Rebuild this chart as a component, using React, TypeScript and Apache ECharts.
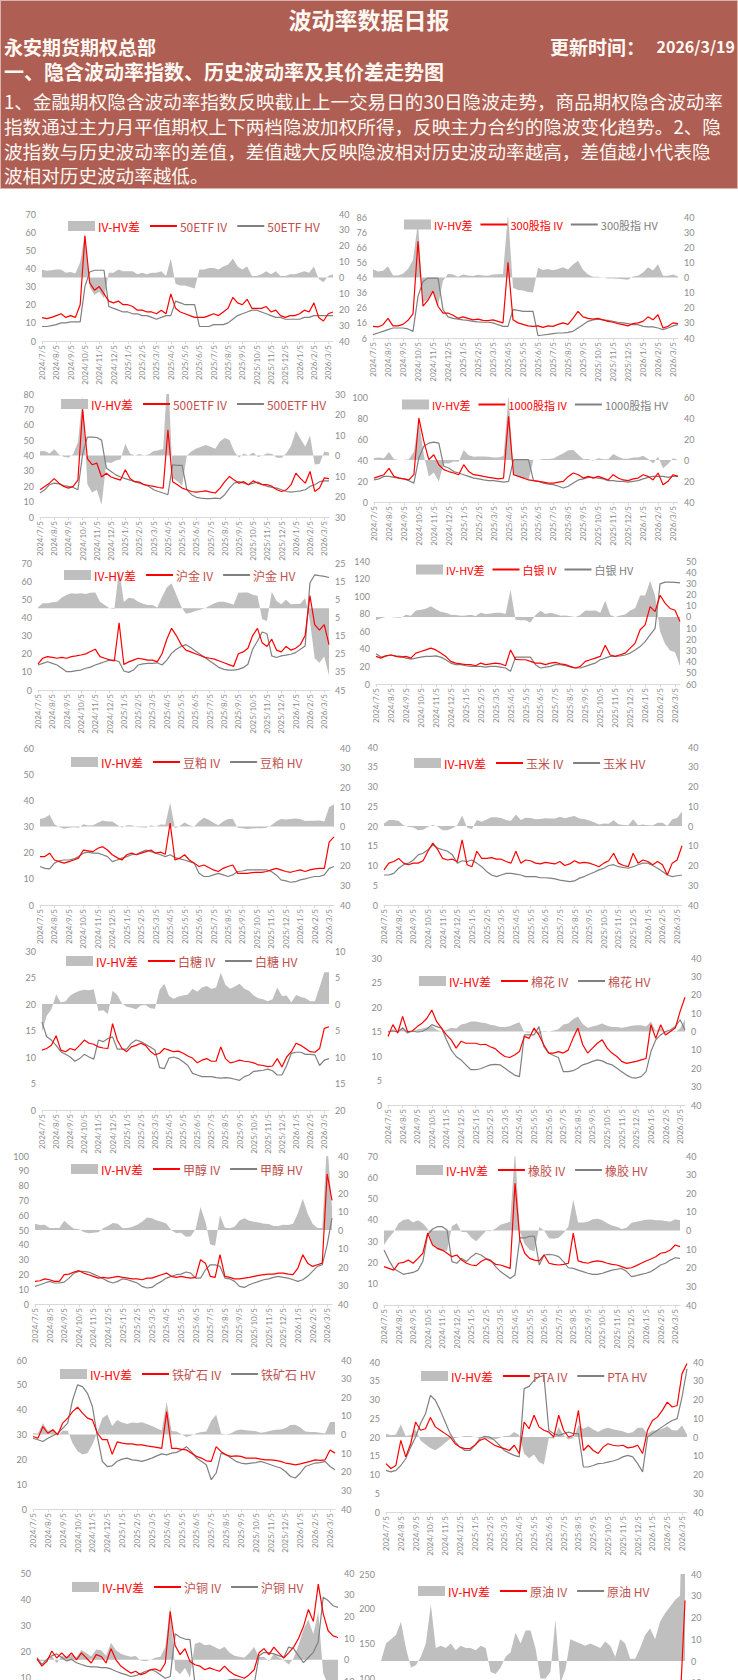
import { useEffect, useRef } from "react";
import * as echarts from "echarts";

// ---------- categories ----------
const DATES = [
  "2024/7/5", "2024/7/15", "2024/7/25", "2024/8/5", "2024/8/15", "2024/8/25",
  "2024/9/5", "2024/9/15", "2024/9/25", "2024/10/5", "2024/10/15", "2024/10/25",
  "2024/11/5", "2024/11/15", "2024/11/25", "2024/12/5", "2024/12/15", "2024/12/25",
  "2025/1/5", "2025/1/15", "2025/1/25", "2025/2/5", "2025/2/15", "2025/2/25",
  "2025/3/5", "2025/3/15", "2025/3/25", "2025/4/5", "2025/4/15", "2025/4/25",
  "2025/5/5", "2025/5/15", "2025/5/25", "2025/6/5", "2025/6/15", "2025/6/25",
  "2025/7/5", "2025/7/15", "2025/7/25", "2025/8/5", "2025/8/15", "2025/8/25",
  "2025/9/5", "2025/9/15", "2025/9/25", "2025/10/5", "2025/10/15", "2025/10/25",
  "2025/11/5", "2025/11/15", "2025/11/25", "2025/12/5", "2025/12/15", "2025/12/25",
  "2026/1/5", "2026/1/15", "2026/1/25", "2026/2/5", "2026/2/15", "2026/2/25",
  "2026/3/5", "2026/3/15",
];

const NAMES = ["50ETF", "300股指", "500ETF", "1000股指", "沪金", "白银", "豆粕", "玉米",
  "白糖", "棉花", "甲醇", "橡胶", "铁矿石", "PTA", "沪铜", "原油"];

// ---------- series values ----------
const IV_50ETF = [12.9,12.3,13, 14,15,13, 14,13,20, 58,32,28, 30,26,22, 21,22,20, 20,19,17, 17,16,16, 15,17,15, 26,18,16, 15,14,13, 13,13,14, 15,14,16, 18,24,21, 20,23,18, 18,18,19, 16,17,14, 13,14,14, 15,17,16, 21,13,11, 15,16];
const HV_50ETF = [8,8,8.5, 9,10,10, 10.5,10.5,10.5, 30,38,39, 39,39,19, 18,17,16, 16,15,15, 14,14,13, 12,13,14, 14,22,21, 20,20,20, 8,8,8, 9,9,9, 10,12,14, 15,16,17, 17,16,15, 14,13,13, 12,12,12, 12,13,13, 14,14,14, 14,14];

const IV_300 = [13.7,13.3,14.8, 19,14,14, 15,17.7,22, 70,27,31, 37,27,22.5, 22.5,21,19, 20,19,18, 18.5,17.7,17.5, 18,17,16, 56,18,16, 15,14,13.7, 14,13,14, 13.7,15,16, 15,19,23.6, 20,19,18.5, 19,18,17, 16.4,15.5,14.8, 14,15.5,16, 17,20,18, 21.4,12.6,13.7, 16,15.5];
const HV_300 = [8.2,9.3,10.4, 11.5,12.6,12.6, 12.6,12,10.4, 33.5,43.4,45.6, 45.6,45.6,24.7, 20,19,18.5, 18,17.7,17, 16.6,16.4,16.4, 16,14.8,13.7, 13.7,24.7,24.3, 23.6,23.6,23.6, 7.5,8,8.4, 8.9,9.3,9.3, 9.7,10.4,12.6, 14.8,17,18, 18.5,18,17.7, 17,16.4,16, 15.5,14.8,14.8, 13.7,13.3,13.3, 12.6,11.5,12.6, 14,14.8];

const IV_500ETF = [17.7,19.9,22, 25,22,19.9, 18.8,19.9,24, 70,38,34, 35,26,28.5, 26,25,24, 30.7,25,23, 22.7,21,20.5, 19.9,19.2,18.8, 56.7,23,21, 18.8,17.7,16.6, 16.2,16.6,17, 16.2,15.6,18.8, 23,26.4,24, 22,23,21, 23.5,22,21, 21,19.9,17.7, 16.6,17.7,21, 28.5,25,22, 29.6,16.6,18.8, 25.4,25];
const HV_500ETF = [15.6,17.7,21, 22,21.5,20.5, 19.9,19.2,17.7, 41,52,52, 51.7,50,31.8, 29.6,27.4,26, 25,24,23, 22,21,19.9, 17.7,16.6,15.6, 14.5,34,33.6, 33.6,17.7,14.5, 12.8,12.3,11.9, 11.9,12.3,11.9, 14.5,18.8,22, 23,22,21, 22,22.7,21, 19.9,19.2,18.8, 17.7,16.6,16.2, 16.6,17,17.7, 19.9,21,23, 23.5,23.5];

const IV_1000 = [22.8,24.4,26, 32,24.4,22.8, 22,21,26, 80,57.8,40.3, 45,35.5,30.8, 29,27.6,26, 35.5,29,26, 25.4,24.4,23.5, 22.8,22,22.8, 81.6,26,24.4, 22.8,21,20.3, 19.7,19,18, 18,19,19.7, 24.4,27.6,26, 22.8,24.4,22.8, 24.4,22.8,21, 26,22.8,21, 20.3,22,22.8, 26,24.4,21, 27.6,16.5,19.7, 26,24.4];
const HV_1000 = [21,22,24.4, 24.4,23.5,22.8, 22,20.3,18, 42,53,56, 57,56,34, 32.4,29,27.6, 26,24.4,22.8, 22,21,20.3, 20.3,19.7,19, 19.7,40.3,40.3, 40.3,40.3,20.3, 19.7,18,17, 16.5,15,13.3, 15,18,21, 22,23.5,23.5, 22.8,22,20.3, 20.3,19.7,19.7, 19,19.7,20.3, 22,23.5,24.4, 24.4,24.4,23.5, 24.4,24.4];

const IV_AU = [14.4,17.5,18.4, 18,17.5,18, 17.5,18.4,18.8, 19.3,19.9,21.2, 22.5,18.4,17.5, 16.6,16,37, 14,15.5,16.5, 17.5,17,16.5, 16.5,15.5,20, 28,34,30, 25,22,21, 20,19,18, 17.5,17,16, 15,14,13, 20,21,23, 30,34,26, 24,28,22, 21,24,22, 23,25,30, 52,36,33, 36,25];
const HV_AU = [13.8,14.7,15.6, 14.7,13.8,12, 10.1,10.1,10.7, 11,12,12.6, 13.8,14.7,15.6, 16.5,16.5,15.6, 10.5,9.7,11, 13.8,14.4,14.7, 14.7,15,13.8, 16.5,20.2,22.5, 24,25,23.4, 21.5,19.7,17.9, 16,14.2,12.3, 11.4,11,11, 11.4,12.3,14.2, 22.5,27,32, 31,18.8,17.9, 18.8,19.2,19.7, 20.6,22.5,24.3, 59,63.5,63, 62.6,62];

const IV_AG = [31.4,29.5,32, 33,31.4,30.6, 31.4,29.5,35.2, 37,38.8,40.9, 38.8,35.2,31.4, 25.7,23.8,23, 22,22,20.8, 23.8,22,23, 23.8,23,20.8, 38.8,28,27.6, 27.6,25.7,23.8, 23.8,22,23.8, 24.6,23,22, 20,18.2,20, 25.7,27.6,29.5, 31.4,44,33, 31.4,33.3,35.2, 40.9,46.5,61.7, 67.3,88,82.4, 101,92,86, 84,71];
const HV_AG = [34.4,30.6,32, 33,32,31.4, 29.5,28.4,29.5, 30.6,31.4,31.4, 32,30.6,27.6, 23.8,22,22, 20.8,20,20, 20,19.3,20, 20,19.3,18.2, 14.4,30.6,30.6, 30.6,30.6,22, 18.2,19.3,20, 22,22,20.8, 19.3,18.2,18.2, 20,22,23.8, 27.6,29.5,31.4, 31.4,32,33, 35.2,38.8,42.6, 48.2,55.8,63.3, 114,116,116, 115.6,115];

const IV_M = [18.5,18.5,19.8, 17.2,16.6,16, 16.6,17.2,17.9, 21,20.7,20.4, 21.7,22.3,21, 19.2,18.1,17.2, 19.2,19.8,19.2, 19.8,20.4,21, 19.8,20.2,19.4, 31.3,17.2,17.9, 19.2,17.2,16, 14.7,15.3,14.3, 13.4,12.8,14, 14.7,15.3,12.1, 12.1,12.1,12.4, 12.5,12.5,12.8, 13.4,14,13.4, 12.8,12.5,13, 13.4,12.8,13.4, 13.8,14,14, 24,26];
const HV_M = [14.7,14,13.8, 16,16.9,17.2, 17.2,17.6,18.5, 19.8,20.2,19.8, 19.8,19.2,18.5, 16.6,17.2,17.9, 18.5,19.2,19.4, 20.2,21,20.4, 19.8,19.2,18.5, 19.2,18.1,17.6, 17.2,16.6,16, 12.1,10.9,10.9, 11.5,12.1,11.5, 10.9,11.5,12.8, 13,13.4,13.4, 13.4,13.4,13.4, 12.8,11.5,9.6, 9.2,8.7,8.9, 9.6,10,10.5, 10.9,10.9,11.5, 14,14.7];

const IV_C = [8.9,10.6,11, 11.8,10.6,10.2, 10.6,10.6,11.2, 13.6,15.7,14, 11.8,11.4,11.6, 11,16.5,10.2, 9.7,13.6,11.8, 11.8,12,11.6, 11.6,11,10.6, 13.6,10.6,11.4, 11.2,10.6,10.4, 10.8,10.6,10.4, 11,10,10.4, 11.2,10.6,10.8, 10.6,10.2,9.7, 10.6,11.2,13.1, 10.6,10,9.7, 13.1,10.6,11.4, 11,10.2,11, 10.2,7.6,10.6, 11.4,15];
const HV_C = [7.6,7.6,8, 9.3,10.2,10.6, 11.4,12.7,13.1, 14,15.2,14.4, 14,13.6,12.7, 10.6,11.2,11, 11.4,10.6,9.7, 8.5,7.6,7.2, 7.6,8,8, 7.8,7.6,7.2, 7.2,7.2,6.9, 6.9,6.8,6.6, 6.3,6.1,5.9, 6.1,6.8,7.2, 7.8,8.3,8.9, 9.3,10,10.2, 9.7,9.5,9.3, 9.7,10.2,10.6, 10.6,10,9.3, 8.5,7.6,7.2, 7.4,7.6];

const IV_SR = [11.3,11.6,12.2, 14,11.3,11, 11.6,11.3,12.2, 13.2,12.6,12.4, 11.9,11.7,11.6, 16.3,13.2,11.6, 11,11.9,12.2, 12.6,12.2,11.1, 10.4,10.7,11.6, 11.3,11,11.1, 10.7,10.2,9.8, 8.9,9.4,9.7, 9.2,9.2,11.9, 9.7,8.9,9.1, 9.4,9.2,9.1, 8.9,8.5,8.4, 8.2,8.3,9.7, 8.1,10,11, 12.6,12.2,11.6, 11,10.9,11.6, 15.4,15.7];
const HV_SR = [16.6,13.8,13.2, 12.2,11,10.5, 10,9.2,9.7, 10.5,10,9.6, 13.2,12.9,13.5, 13.8,11.5,11.5, 11.5,12.6,13.2, 12.9,12.4,11.9, 11.3,8,7.8, 9.8,10,9.7, 9.1,8.4,6.9, 6.6,6.3,6.3, 6.3,6.1,6, 6.1,6,5.8, 5.6,6.3,6.6, 7.3,7.4,7.5, 7.7,7.4,6.6, 6.6,8.4,10.7, 10.9,10.9,10.5, 10.5,10.4,8.4, 9.4,9.7];

const IV_CF = [14,16.4,14.7, 18.1,15,15.1, 16,16.7,17.7, 19.4,17,15.7, 14.3,13.3,11.6, 13,12.6,12.6, 12.6,12.3,12.4, 11.9,11.5,10.6, 9.9,9.7,10.2, 10.9,14,13.6, 15.7,14.3,12.3, 10.6,10.6,10.9, 10.6,11.2,13.6, 15.7,12.3,10.6, 11.6,12.6,13.3, 11.6,10.6,9.9, 8.9,8.5,8.7, 8.9,9.2,9.5, 16.4,13.6,16.4, 14.3,15,15.7, 19.1,22];
const HV_CF = [15,15.1,14.9, 15.7,14.7,15.1, 14.9,15,15.5, 16.4,16,15.7, 13.3,11.2,9.9, 9.2,8.2,7.2, 7.2,7.4,7.8, 8.2,8.3,8.2, 7.5,6.8,6.1, 5.8,14.3,14.3, 14.3,16,11.9, 10.6,10.1,9.7, 6.8,6.8,7, 7.5,8.2,8.5, 8.9,9.2,9, 8.5,8.2,7.5, 6.8,6.1,5.6, 5.5,5.8,6.8, 10.9,13.3,14.3, 15,15.3,16, 17.4,15.3];

const IV_MA = [15.3,15.7,17, 16.4,15.3,15.3, 19.8,20.2,21.6, 22.5,20.9,19.8, 18.7,17.5,18, 17.5,18,18.7, 18,17.5,17, 17,16.4,17.5, 17.5,18.7,19.8, 20.9,18.7,18, 18.7,18,17.5, 18,29.9,27.6, 18.7,18,33.3, 18.7,18,17, 17,17.5,18, 18.7,19.3,19.8, 20.2,20.2,20.9, 20.9,20.2,19.8, 24.3,33.3,27.6, 25.4,26.5,27.6, 88,70];
const HV_MA = [11.9,13,14.2, 15.3,14.2,14.2, 14.8,17.5,20.9, 22,22,21.6, 20.2,18.7,17, 15.3,14.2,15.3, 17,16.4,15.3, 14.2,11.9,10.8, 11.2,13.5,15.3, 17.5,18.7,19.8, 20.2,21.6,20.9, 17.5,17.5,23.1, 26.5,26.5,25.4, 17.5,17,15.3, 11.9,11.2,13, 14.2,15.3,16.4, 17,18,18.7, 18,17.5,16.4, 15.3,16.4,18.7, 22,25.4,26.5, 40,58];

const IV_RU = [18,17.2,16.4, 19.6,20,21.1, 19.6,21.9,24.3, 33.8,28.2,26.6, 25.8,24.3,22.7, 23.5,21.1,19.6, 18.8,18.5,20.4, 21.6,20.7,19.1, 18.8,18,17.2, 57.2,30.7,24.3, 21.9,21.1,20.7, 23.5,19.6,19.1, 18.8,19.1,19.6, 33.8,20.7,20, 19.6,20.4,20.7, 20.4,19.6,19.1, 18.8,18,17.2, 17.5,18.5,19.6, 20.7,21.6,22.7, 24.3,24.7,25.8, 28.2,27.4];
const HV_RU = [25.8,21.1,17.2, 15.7,14.4,14.9, 15.3,16.4,20.4, 33,35.7,36.8, 36.8,35.2,20.4, 19.6,21.9,20.4, 22.7,24.3,23.5, 21.9,21.1,18, 15.7,14.1,12.5, 14.1,31.5,31.5, 32.3,32.3,18.8, 23.5,23.8,23.5, 22.7,20.4,17.5, 17.2,16.4,15.7, 14.9,14.4,14.4, 14.9,15.7,16.4, 16.8,17.2,15.7, 13.3,13.8,14.4, 14.9,15.7,17.2, 18.8,19.6,21.1, 22.2,21.9];

const IV_I = [29.2,28.5,33.2, 30.5,31.9,29.9, 34.6,36.6,39.2, 41,38.6,36.6, 35.9,30.5,27.9, 27.9,22,27, 26.5,26.2,26.2, 25.8,25.8,25.4, 25.1,24.8,24.4, 39.2,24.4,24.4, 24,23.8,22.5, 21.2,20.5,19.4, 19.2,25.1,23.1, 21.8,21.2,21.4, 21.2,20.5,20.5, 20.5,20.1,19.8, 19.8,19.6,19.2, 18.5,18.2,17.8, 18.2,18.7,19.2, 19.8,19.6,19.8, 23.8,22.5];
const HV_I = [28.5,27.9,27.2, 28.5,29.5,30.5, 32.5,34.6,43.9, 50,49.3,46.6, 41.3,29.2,19.2, 17.1,17.4,19.2, 20.1,20.5,19.8, 19.6,19.2,19.8, 20.5,21.4,22.2, 21.8,22.5,22.8, 23.8,25.1,23.1, 20.5,19.2,17.8, 11.8,14.5,22.5, 21.8,20.5,19.2, 18.5,18.2,18.5, 18.7,19.2,18.5, 17.8,17.1,16.5, 15.1,13.1,12.5, 14.5,17.1,17.8, 18.5,18.7,19.2, 17.1,15.8];

const IV_TA = [12.9,11.6,12.4, 19.1,14.7,18.2, 24,21.8,22.2, 25.2,22.7,21.8, 20.9,20,18.2, 17.3,16.9,16.9, 17.8,19.1,19.6, 18.7,17.8,17.3, 16.9,16.4,17.8, 15.6,24,22.2, 25.8,22.7,21.8, 21.3,20,25.8, 21.8,20,20.4, 27.1,16.4,17.8, 16.4,15.6,17.3, 18.2,17.8,17.6, 17.8,17.1,17.3, 17.8,15.6,21.8, 24.4,25.3,27.1, 29.3,28,28.4, 36.9,39.6];
const HV_TA = [11.1,10.7,11.1, 12.4,14.2,17.3, 20,23.6,26.2, 31.1,29.8,27.1, 24,20.9,18.7, 17.3,16.4,16.4, 17.8,19.6,20.2, 20,19.1,17.8, 16.4,15.7,15.1, 14.7,32.9,33.5, 35.1,36,36.4, 21.8,20.9,20.4, 20.9,21.3,20.9, 20.9,12,12, 12.4,12.9,13, 13.3,13.6,14, 14.7,15.1,14.7, 12.9,10.7,20, 20.9,21.8,22.7, 23.6,24.4,24.9, 30.7,38.2];

const IV_CU = [17,14.2,16, 20,17.3,19.3, 17.3,19.3,16.6, 19.3,17.3,15.4, 18.6,17.9,15.4, 20.9,16.6,14.2, 12.8,11.5,12.2, 10.9,11.5,12.8, 13.1,12.2,15.4, 35.2,22.1,18.6, 20.9,16,14.7, 14.2,12.8,13.5, 12.8,12.2,14.2, 12.2,10.9,10.2, 9.5,10.9,12.8, 19.3,20.9,18.6, 21.5,19.3,17.3, 19.3,21.5,24.8, 29.4,36,31.4, 45.7,34.4,27.8, 25.8,25.2];
const HV_CU = [17.5,14.8,16.8, 18.2,18.9,17.5, 16.2,16.8,15.5, 14.8,14.2,13.9, 13.9,13.6,13.6, 13.1,12.2,11.5, 10.9,10.2,10.5, 11.3,12.2,12.8, 12.2,10.9,9.5, 10.2,26.6,25.3, 24.6,24.4,7.4, 6.2,6.2,6.5, 6.9,7.5,8.2, 8.9,9.1,8.9, 8.6,7.8,6.9, 18.2,19.5,19.3, 18.9,18.2,17.5, 21.5,20.9,18.2, 15.5,17.5,19.5, 23.6,40.7,39.4, 37.4,36.8];

const IV_SC = [22,30,30, 34,42,32, 27,30,32, 42,61,39, 37,34,34, 29,30,28, 30,31,35, 33,21,19, 23,30,32, 48,58,59, 56,44,28, 28,37,59, 24,26,38, 36,34,33, 33,32,32, 36,35,30, 37,35,27, 27,31,38, 42,38,48, 52,57,62, 60,212];
const HV_SC = [22,22,20, 22,24,26, 30,32,30, 34,35,33, 30,28,26, 24,23,22, 24,26,28, 27,26,25, 26,28,28, 35,50,45, 42,38,36, 36,42,40, 34,30,28, 27,26,26, 25,25,26, 27,28,28, 27,27,26, 26,25,26, 27,28,30, 30,32,34, 30,90];

const IV_ALL = [IV_50ETF, IV_300, IV_500ETF, IV_1000, IV_AU, IV_AG, IV_M, IV_C, IV_SR, IV_CF, IV_MA, IV_RU, IV_I, IV_TA, IV_CU, IV_SC];
const HV_ALL = [HV_50ETF, HV_300, HV_500ETF, HV_1000, HV_AU, HV_AG, HV_M, HV_C, HV_SR, HV_CF, HV_MA, HV_RU, HV_I, HV_TA, HV_CU, HV_SC];

// ---------- axis scales (min, max, interval) ----------
const LEFT_SCALES = [[0,70,10],[6,86,10],[0,80,10],[0,100,20],[0,70,10],[0,140,20],[0,60,10],[0,40,5],
  [0,30,5],[0,30,5],[0,100,10],[0,70,10],[0,60,10],[0,40,5],[0,50,10],[0,250,50]];
const RIGHT_SCALES = [[-40,40,10],[-40,40,10],[-30,30,10],[-40,60,20],[-45,25,10],[-60,50,10],[-40,40,10],[-40,40,10],
  [-20,10,5],[-40,40,10],[-40,40,10],[-40,40,10],[-40,40,10],[-40,40,10],[-20,40,10],[-40,40,10]];

// ---------- header texts ----------
const TITLE = "波动率数据日报";
const DEPT = "永安期货期权总部";
const UPDATE_LABEL = "更新时间：";
const UPDATE_DATE = "2026/3/19";
const SECTION = "一、隐含波动率指数、历史波动率及其价差走势图";
const PARA = [
  "1、金融期权隐含波动率指数反映截止上一交易日的30日隐波走势，商品期权隐含波动率",
  "指数通过主力月平值期权上下两档隐波加权所得，反映主力合约的隐波变化趋势。2、隐",
  "波指数与历史波动率的差值，差值越大反映隐波相对历史波动率越高，差值越小代表隐",
  "波相对历史波动率越低。",
];

// ---------- layout (pixels) ----------
const PAGE_H = 1680;
const LAYOUT = [
  { l: 42, t: 214, r: 333, b: 341, lx: 68, ly: 227 },
  { l: 373, t: 217, r: 678, b: 338, lx: 404, ly: 226 },
  { l: 40, t: 394, r: 329, b: 517, lx: 61, ly: 405 },
  { l: 374, t: 397, r: 678, b: 502, lx: 402, ly: 406 },
  { l: 38, t: 563, r: 329, b: 690, lx: 64, ly: 576 },
  { l: 376, t: 561, r: 680, b: 684, lx: 416, ly: 571 },
  { l: 40, t: 748, r: 334, b: 905, lx: 71, ly: 763 },
  { l: 384, t: 747, r: 682, b: 905, lx: 414, ly: 764 },
  { l: 42, t: 951, r: 329, b: 1110, lx: 66, ly: 962 },
  { l: 388, t: 958, r: 685, b: 1105, lx: 419, ly: 982 },
  { l: 35, t: 1156, r: 332, b: 1304, lx: 71, ly: 1170 },
  { l: 384, t: 1156, r: 680, b: 1305, lx: 416, ly: 1171 },
  { l: 33, t: 1360, r: 335, b: 1509, lx: 60, ly: 1375 },
  { l: 386, t: 1362, r: 687, b: 1512, lx: 421, ly: 1377 },
  { l: 37, t: 1573, r: 338, b: 1703, lx: 72, ly: 1588 },
  { l: 381, t: 1574, r: 685, b: 1748, lx: 418, ly: 1592 },
];
const RED_GRAY_LEGEND = [false, true, false, true, false, true, false, false, false, false, false, false, false, false, false, false];

const C_IV = "#FF0000";
const C_HV = "#808080";
const C_DIFF = "#BFBFBF";
const C_BROWN = "#C0504D";
const C_AXIS = "#8C8C8C";
const F_CJK = '"Noto Sans CJK SC", "Noto Sans", sans-serif';
const F_AX = 'Lato, "Noto Sans", sans-serif';
const HEADER_BG = "#AE5E52";
const HEADER_FG = "#FFF8F2";
const LINE_ICON = "path://M0,0 L27,0 L27,2 L0,2 Z";

function buildOption() {
  const grid: any[] = [];
  const xAxis: any[] = [];
  const yAxis: any[] = [];
  const series: any[] = [];
  const legend: any[] = [];

  NAMES.forEach((name, k) => {
    const L = LAYOUT[k];
    const iv = IV_ALL[k];
    const hv = HV_ALL[k];
    const diff = iv.map((v, i) => Math.round((v - hv[i]) * 10) / 10);
    const [lmin, lmax, lint] = LEFT_SCALES[k];
    const [rmin, rmax, rint] = RIGHT_SCALES[k];
    const h = L.b - L.t;
    // tick labels that fall completely below the page are not visible in the reference either
    const onPage = (v: number, mn: number, mx: number) => L.t + ((mx - v) / (mx - mn)) * h - 4 <= PAGE_H;

    grid.push({
      left: L.l, top: L.t, width: L.r - L.l, height: h,
      containLabel: false, outerBoundsMode: "none",
    });
    xAxis.push({
      type: "category", gridIndex: k, data: DATES, boundaryGap: false,
      axisLine: { onZero: false, lineStyle: { color: "#D9D9D9", width: 1 } },
      axisTick: { interval: 2, length: 3, lineStyle: { color: "#D9D9D9" } },
      axisLabel: { show: L.b + 4 < PAGE_H, interval: 2, rotate: 90, fontSize: 8, color: C_AXIS, margin: 4, fontFamily: F_AX },
      splitLine: { show: false },
    });
    yAxis.push({
      type: "value", gridIndex: k, position: "left", min: lmin, max: lmax, interval: lint,
      axisLine: { show: false }, axisTick: { show: false }, splitLine: { show: false },
      axisLabel: {
        fontSize: 9, color: C_AXIS, margin: 6, fontFamily: F_AX,
        formatter: (v: number) => (onPage(v, lmin, lmax) ? String(v) : ""),
      },
    });
    yAxis.push({
      type: "value", gridIndex: k, position: "right", min: rmin, max: rmax, interval: rint,
      axisLine: { show: false }, axisTick: { show: false }, splitLine: { show: false },
      axisLabel: {
        fontSize: 9, color: C_AXIS, margin: 6, fontFamily: F_AX,
        formatter: (v: number) => (onPage(v, rmin, rmax) ? String(Math.abs(v)) : ""),
      },
    });

    series.push({
      type: "line", name: "IV-HV差", xAxisIndex: k, yAxisIndex: 2 * k + 1, data: diff,
      symbol: "none", showSymbol: false, lineStyle: { width: 0, color: C_DIFF },
      areaStyle: { color: C_DIFF, opacity: 1 }, itemStyle: { color: C_DIFF }, z: 1, silent: true,
    });
    series.push({
      type: "line", name: `${name} HV`, xAxisIndex: k, yAxisIndex: 2 * k, data: hv,
      symbol: "none", showSymbol: false, lineStyle: { width: 1.2, color: C_HV }, itemStyle: { color: C_HV }, z: 2, silent: true,
    });
    series.push({
      type: "line", name: `${name} IV`, xAxisIndex: k, yAxisIndex: 2 * k, data: iv,
      symbol: "none", showSymbol: false, lineStyle: { width: 1.2, color: C_IV }, itemStyle: { color: C_IV }, z: 3, silent: true,
    });

    const rg = RED_GRAY_LEGEND[k];
    legend.push({
      left: L.lx, top: L.ly - 7, orient: "horizontal", itemWidth: 27, itemHeight: 10, itemGap: rg ? 8 : 10,
      selectedMode: false, padding: 0,
      textStyle: { fontSize: rg ? 11 : 12, fontFamily: F_CJK, padding: [0, 0, 0, -2] },
      data: [
        { name: "IV-HV差", icon: "rect", itemStyle: { color: C_DIFF }, textStyle: { color: C_IV } },
        { name: `${name} IV`, icon: LINE_ICON, itemStyle: { color: C_IV }, textStyle: { color: rg ? C_IV : C_BROWN } },
        { name: `${name} HV`, icon: LINE_ICON, itemStyle: { color: C_HV }, textStyle: { color: rg ? C_HV : C_BROWN } },
      ],
    });
  });

  const graphic: any[] = [
    { type: "rect", shape: { x: 0.5, y: 0.5, width: 737, height: 188 }, style: { fill: HEADER_BG, stroke: "#D9B3AC", lineWidth: 1 }, z: 0 },
    { type: "text", x: 369, y: 19, style: { text: TITLE, fill: HEADER_FG, fontSize: 23, fontWeight: "bold", fontFamily: F_CJK, textAlign: "center", textVerticalAlign: "middle" } },
    { type: "text", x: 4, y: 46, style: { text: DEPT, fill: HEADER_FG, fontSize: 19, fontWeight: "bold", fontFamily: F_CJK, textAlign: "left", textVerticalAlign: "middle" } },
    { type: "text", x: 550, y: 46, style: { text: UPDATE_LABEL, fill: HEADER_FG, fontSize: 19, fontWeight: "bold", fontFamily: F_CJK, textAlign: "left", textVerticalAlign: "middle" } },
    { type: "text", x: 735, y: 46, style: { text: UPDATE_DATE, fill: HEADER_FG, fontSize: 16, fontWeight: "bold", fontFamily: F_CJK, textAlign: "right", textVerticalAlign: "middle" } },
    { type: "text", x: 4, y: 71, style: { text: SECTION, fill: HEADER_FG, fontSize: 20, fontWeight: "bold", fontFamily: F_CJK, textAlign: "left", textVerticalAlign: "middle" } },
  ];
  const paraY = [100, 125, 150, 174];
  PARA.forEach((t, i) => {
    graphic.push({ type: "text", x: 4, y: paraY[i], style: { text: t, fill: HEADER_FG, fontSize: 18.6, fontFamily: F_CJK, textAlign: "left", textVerticalAlign: "middle" } });
  });

  return { animation: false, backgroundColor: "#FFFFFF", grid, xAxis, yAxis, series, legend, graphic };
}

export default function App() {
  const ref = useRef<HTMLDivElement>(null);
  useEffect(() => {
    document.body.style.margin = "0";
    document.body.style.overflow = "hidden";
    document.documentElement.style.overflow = "hidden";
    const chart = echarts.init(ref.current as HTMLDivElement, null, { renderer: "svg" });
    chart.setOption(buildOption() as any);
    return () => chart.dispose();
  }, []);
  return <div ref={ref} style={{ position: "absolute", left: 0, top: 0, width: 738, height: PAGE_H, background: "#fff", overflow: "hidden" }} />;
}
